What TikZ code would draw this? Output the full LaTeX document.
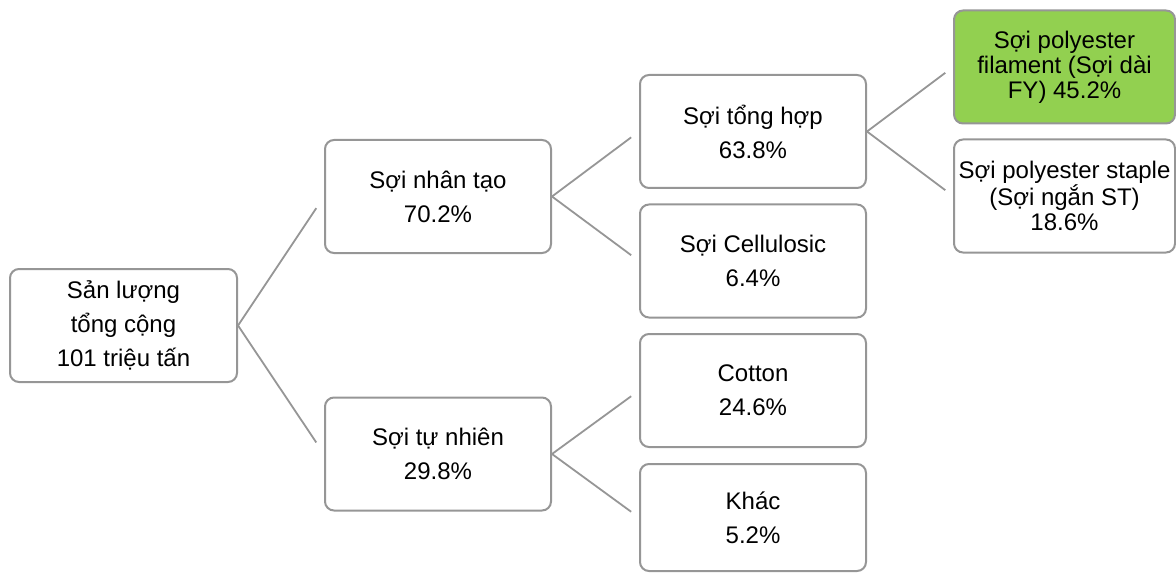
\documentclass[tikz,border=0pt]{standalone}
\usepackage{fontspec}
\setmainfont{Liberation Sans}
\usepackage{tikz}
\usetikzlibrary{calc, positioning}
\usepackage{xcolor}
\definecolor{boxgray}{RGB}{150,150,150}
\definecolor{fygreen}{RGB}{146,208,80}

\begin{document}
\begin{tikzpicture}[
    x=0.5pt, y=-0.5pt,
    fiber/.style={draw=boxgray, line width=1pt, rounded corners=4.5pt,
                  minimum width=113pt, minimum height=56.5pt, inner sep=0pt,
                  align=center, fill=white,
                  font=\fontsize{12}{17}\selectfont},
    tight/.style={fiber, minimum width=110.5pt,
                  font=\fontsize{12}{12.5}\selectfont},
    link/.style={draw=boxgray, line width=0.9pt}
]
\useasboundingbox (0,0) rectangle (1176,572);

\def\xroot{123.5}
\def\xmid{438}
\def\xsub{753}
\def\xpes{1064.5}

\node[fiber, minimum width=113.5pt] (total) at (\xroot, 325.5)
  {Sản lượng\\tổng cộng\\101 triệu tấn};

\node[fiber] (mmf) at (\xmid, 196.5) {Sợi nhân tạo\\70.2\%};
\node[fiber] (nat) at (\xmid, 454) {Sợi tự nhiên\\29.8\%};
\draw[link] (total.east) -- ($(total.east)!0.91!(mmf.west)$);
\draw[link] (total.east) -- ($(total.east)!0.91!(nat.west)$);

\node[fiber] (syn) at (\xsub, 131.5) {Sợi tổng hợp\\63.8\%};
\node[fiber] (cel) at (\xsub, 261) {Sợi Cellulosic\\6.4\%};
\node[fiber] (cot) at (\xsub, 390.5) {Cotton\\24.6\%};
\node[fiber, minimum height=53.5pt] (oth) at (\xsub, 517.5) {Khác\\5.2\%};
\draw[link] (mmf.east) -- ($(mmf.east)!0.91!(syn.west)$);
\draw[link] (mmf.east) -- ($(mmf.east)!0.91!(cel.west)$);
\draw[link] (nat.east) -- ($(nat.east)!0.91!(cot.west)$);
\draw[link] (nat.east) -- ($(nat.east)!0.91!(oth.west)$);

\node[tight, fill=fygreen] (fy) at (\xpes, 67)
  {Sợi polyester\\filament (Sợi dài\\FY) 45.2\%};
\node[tight] (st) at (\xpes, 196)
  {Sợi polyester staple\\(Sợi ngắn ST)\\18.6\%};
\draw[link] (syn.east) -- ($(syn.east)!0.91!(fy.west)$);
\draw[link] (syn.east) -- ($(syn.east)!0.91!(st.west)$);

\end{tikzpicture}
\end{document}
